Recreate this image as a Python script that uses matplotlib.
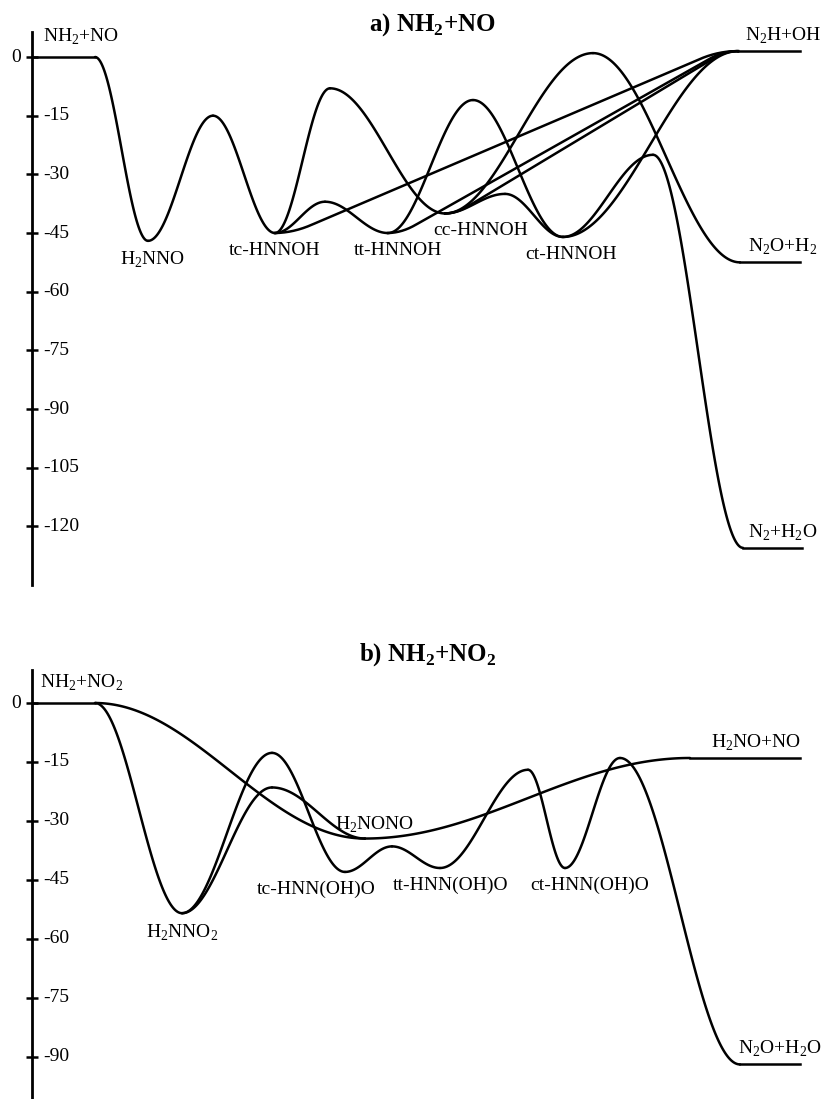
import numpy as np
import matplotlib
matplotlib.use('Agg')
import matplotlib.pyplot as plt

plt.rcParams['font.family'] = ['Liberation Serif', 'DejaVu Serif']
plt.rcParams['mathtext.fontset'] = 'custom'
plt.rcParams['mathtext.rm'] = 'Liberation Serif'
plt.rcParams['mathtext.bf'] = 'Liberation Serif:bold'

# ---- panel a: NH2 + NO  (reaction coordinate, energy in kcal/mol)
a_min_names = ['R', 'H2NNO', 'tc', 'tt', 'cc', 'ct', 'N2H+OH', 'N2O+H2', 'N2+H2O']
a_min_labels = ['NH$_2$+NO', 'H$_2$NNO', 'tc-HNNOH', 'tt-HNNOH', 'cc-HNNOH',
                'ct-HNNOH', 'N$_2$H+OH', 'N$_2$O+H$_2$', 'N$_2$+H$_2$O']
a_min_x = [95, 148, 275, 388, 445, 563, 738, 740, 743]
a_min_e = [0, -47, -45, -45, -40, -46, 1.5, -52.5, -125.5]

a_ts_names = ['ts1', 'ts2', 'ts3', 'ts4', 'ts5', 'ts6', 'ts7']
a_ts_x = [213, 330, 325, 473, 505, 593, 653]
a_ts_e = [-15, -8, -37, -11, -35, 1, -25]

a_paths = [['R', 'H2NNO', 'ts1', 'tc'],
           ['tc', 'ts2', 'cc'],
           ['tc', 'ts3', 'tt'],
           ['tt', 'ts4', 'ct'],
           ['cc', 'ts5', 'ct'],
           ['cc', 'ts6', 'N2O+H2'],
           ['ct', 'ts7', 'N2+H2O'],
           ['ct', 'N2H+OH']]
a_direct = [['tc', 'N2H+OH'], ['tt', 'N2H+OH'], ['cc', 'N2H+OH']]
a_levels = [('R', 33), ('N2H+OH', 800), ('N2O+H2', 800), ('N2+H2O', 802)]
a_ticks = [0, -15, -30, -45, -60, -75, -90, -105, -120]

# ---- panel b: NH2 + NO2
b_min_names = ['R', 'H2NNO2', 'H2NONO', 'tc', 'tt', 'ct', 'H2NO+NO', 'N2O+H2O']
b_min_labels = ['NH$_2$+NO$_2$', 'H$_2$NNO$_2$', 'H$_2$NONO', 'tc-HNN(OH)O',
                'tt-HNN(OH)O', 'ct-HNN(OH)O', 'H$_2$NO+NO', 'N$_2$O+H$_2$O']
b_min_x = [95, 182, 365, 345, 440, 565, 690, 740]
b_min_e = [0, -53.5, -34.5, -43, -42, -42, -14, -92]

b_ts_names = ['ts1', 'ts2', 'ts3', 'ts4', 'ts5']
b_ts_x = [272, 272, 392, 528, 620]
b_ts_e = [-12.7, -21.5, -36.5, -17, -14]

b_paths = [['R', 'H2NNO2'],
           ['R', 'H2NONO'],
           ['H2NNO2', 'ts1', 'tc', 'ts3', 'tt', 'ts4', 'ct', 'ts5', 'N2O+H2O'],
           ['H2NNO2', 'ts2', 'H2NONO', 'H2NO+NO']]
b_direct = []
b_levels = [('R', 33), ('H2NO+NO', 800), ('N2O+H2O', 800)]
b_ticks = [0, -15, -30, -45, -60, -75, -90]

LW = 1.8
FS = 14


def cos_seg(x0, e0, x1, e1, n=120):
    t = np.linspace(0, 1, n)
    return x0 + (x1 - x0) * t, e0 + (e1 - e0) * (1 - np.cos(np.pi * t)) / 2


def ramp_seg(x0, e0, x1, e1, n=200, f=0.08):
    # nearly straight with eased ends
    t = np.linspace(0, 1, n)
    v = np.clip(np.minimum(t, 1 - t) / f, 0, 1)
    s = np.cumsum(v)
    s = (s - s[0]) / (s[-1] - s[0])
    return x0 + (x1 - x0) * t, e0 + (e1 - e0) * s


def draw_panel(ax, names, mx, me, tsn, tsx, tse, paths, direct, levels, ticks):
    pos = {n: (x, e) for n, x, e in zip(names, mx, me)}
    pos.update({n: (x, e) for n, x, e in zip(tsn, tsx, tse)})
    for p in paths:
        for a, b in zip(p[:-1], p[1:]):
            xs, es = cos_seg(*pos[a], *pos[b])
            ax.plot(xs, es, color='black', lw=LW, solid_capstyle='round')
    for a, b in direct:
        xs, es = ramp_seg(*pos[a], *pos[b])
        ax.plot(xs, es, color='black', lw=LW)
    for n, xe in levels:
        x, e = pos[n]
        ax.plot([x, xe], [e, e], color='black', lw=LW)
    for t in ticks:
        if t == 0:
            ax.text(21, t, '0', ha='right', va='center', fontsize=FS, clip_on=False)
        else:
            ax.text(43, t, str(t), ha='left', va='center', fontsize=FS)
    ax.set_yticks(ticks)
    ax.set_yticklabels([])
    ax.set_xticks([])
    ax.tick_params(axis='y', direction='inout', length=8.5, width=1.8)
    for s in ['top', 'right', 'bottom']:
        ax.spines[s].set_visible(False)
    ax.spines['left'].set_linewidth(2)


fig = plt.figure(figsize=(8.23, 10.99), dpi=100)


def box(x0, y0, x1, y1):
    return [x0 / 823, 1 - y1 / 1099, (x1 - x0) / 823, (y1 - y0) / 1099]


axa = fig.add_axes(box(32, 32, 823, 585))
axa.set_xlim(32, 823)
axa.set_ylim(-135.0, 6.4)
draw_panel(axa, a_min_names, a_min_x, a_min_e, a_ts_names, a_ts_x,
           a_ts_e, a_paths, a_direct, a_levels, a_ticks)

# species labels, panel a
axa.text(43, 2.5, a_min_labels[0], ha='left', va='bottom', fontsize=FS)
a_lab_x = [153, 275, 398, 481, 571]
for i, xc in zip(range(1, 6), a_lab_x):
    axa.text(xc, a_min_e[i] - 2.3, a_min_labels[i], ha='center', va='top', fontsize=FS)
for i in range(6, 9):
    axa.text(783, a_min_e[i] + 1.3, a_min_labels[i], ha='center', va='bottom',
             fontsize=FS, clip_on=False)

axb = fig.add_axes(box(32, 670, 823, 1099))
axb.set_xlim(32, 823)
axb.set_ylim(-100.8, 8.4)
draw_panel(axb, b_min_names, b_min_x, b_min_e, b_ts_names, b_ts_x,
           b_ts_e, b_paths, b_direct, b_levels, b_ticks)

axb.text(40, 2.5, b_min_labels[0], ha='left', va='bottom', fontsize=FS)
axb.text(b_min_x[1], b_min_e[1] - 2.3, b_min_labels[1], ha='center', va='top', fontsize=FS)
axb.text(335, b_min_e[2] + 1.0, b_min_labels[2], ha='left', va='bottom', fontsize=FS)
for i, xc in zip([3, 4, 5], [316, 451, 590]):
    axb.text(xc, b_min_e[i] - 2.3, b_min_labels[i], ha='center', va='top', fontsize=FS)
axb.text(756, b_min_e[6] + 1.3, b_min_labels[6], ha='center', va='bottom', fontsize=FS, clip_on=False)
axb.text(780, b_min_e[7] + 1.3, b_min_labels[7], ha='center', va='bottom', fontsize=FS, clip_on=False)

fig.text(432 / 823, 1 - 25 / 1099, r'a) NH$_\mathbf{2}$+NO', ha='center', va='center',
         fontsize=18, fontweight='bold')
fig.text(428 / 823, 1 - 655 / 1099, r'b) NH$_\mathbf{2}$+NO$_\mathbf{2}$', ha='center', va='center',
         fontsize=18, fontweight='bold')

fig.savefig('out.png', dpi=100)
